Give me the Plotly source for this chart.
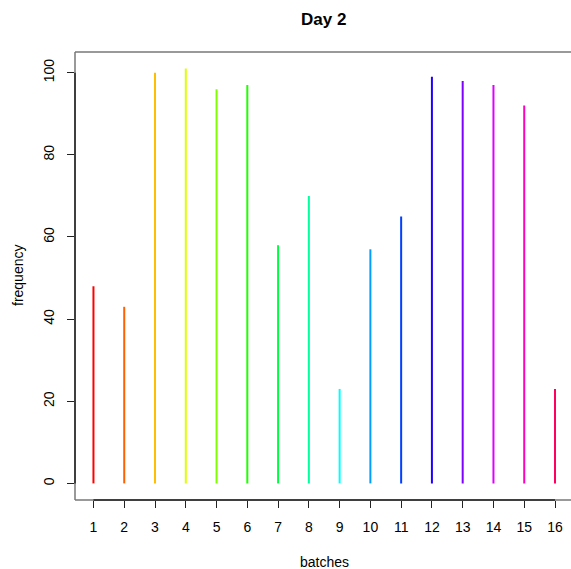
import plotly.graph_objects as go

# Day 2 counts per batch
batches = list(range(1, 17))
frequency = [48, 43, 100, 101, 96, 97, 58, 70, 23, 57, 65, 99, 98, 97, 92, 23]
colors = ["#FF0000", "#FF6000", "#FFBF00", "#DFFF00", "#80FF00", "#20FF00",
          "#00FF40", "#00FF9F", "#00FFFF", "#009FFF", "#0040FF", "#2000FF",
          "#8000FF", "#DF00FF", "#FF00BF", "#FF0060"]
y_ticks = [0, 20, 40, 60, 80, 100]

W, H = 571, 569
ml, mt, mb = 74.5, 52.3, 69.4
font = "Liberation Sans, Arial, sans-serif"

fig = go.Figure()
for b, f, c in zip(batches, frequency, colors):
    fig.add_trace(go.Scatter(x=[b, b], y=[0, f], mode="lines",
                             line=dict(color=c, width=2), showlegend=False,
                             hoverinfo="skip"))

ymin, ymax = -4.04, 105.04
xmin, xmax = 0.4, 16.52

fig.update_layout(
    width=W, height=H,
    margin=dict(l=ml, r=0, t=mt, b=mb, pad=0),
    plot_bgcolor="white", paper_bgcolor="white",
    font=dict(family=font, size=12, color="black"),
    xaxis=dict(range=[xmin, xmax], tickvals=batches, ticktext=[str(b) for b in batches],
               ticks="outside", ticklen=7, tickwidth=1, tickcolor="#222",
               ticklabelstandoff=7,
               showline=False, showgrid=False, zeroline=False,
               tickfont=dict(size=14)),
    yaxis=dict(range=[ymin, ymax], tickvals=y_ticks, ticks="outside", ticklen=7,
               tickwidth=1, tickcolor="#222", tickangle=-90, ticklabelstandoff=7,
               showline=False, showgrid=False, zeroline=False,
               tickfont=dict(size=14)),
    shapes=[
        # plot box
        dict(type="line", xref="paper", yref="paper", x0=0, x1=1, y0=1, y1=1,
             line=dict(color="#777", width=1.5)),
        dict(type="line", xref="paper", yref="paper", x0=0, x1=0, y0=0, y1=1,
             line=dict(color="#777", width=1.5)),
        dict(type="line", xref="paper", yref="paper", x0=0, x1=1, y0=0, y1=0,
             line=dict(color="#777", width=1.5)),
        # axis lines spanning the tick range
        dict(type="line", xref="paper", yref="y", x0=0, x1=0, y0=y_ticks[0], y1=y_ticks[-1],
             line=dict(color="#222", width=1.5)),
        dict(type="line", xref="x", yref="paper", x0=batches[0], x1=batches[-1], y0=0, y1=0,
             line=dict(color="#222", width=1.5)),
    ],
    annotations=[
        dict(text="<b>Day 2</b>", xref="paper", yref="paper",
             x=(323 - ml) / (W - ml), y=1, yshift=33, showarrow=False,
             font=dict(size=17), xanchor="center", yanchor="middle"),
        dict(text="batches", xref="paper", yref="paper",
             x=(324 - ml) / (W - ml), y=0, yshift=-62, showarrow=False,
             font=dict(size=14), xanchor="center", yanchor="middle"),
        dict(text="frequency", xref="paper", yref="paper", textangle=-90,
             x=0, xshift=-57, y=0.5, showarrow=False,
             font=dict(size=14), xanchor="center", yanchor="middle"),
    ],
)

fig.write_html("out.html")
